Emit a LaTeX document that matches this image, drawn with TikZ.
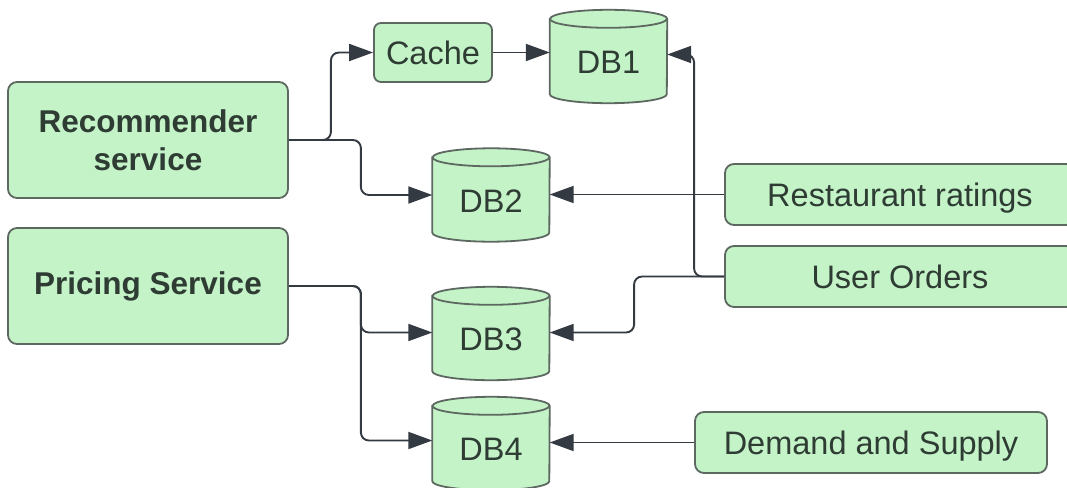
\documentclass[tikz,border=0pt]{standalone}
\usepackage{fontspec}
\setmainfont{Liberation Sans}
\usetikzlibrary{arrows.meta,calc}
\definecolor{boxfill}{RGB}{196,243,200}
\definecolor{boxline}{RGB}{92,104,96}
\definecolor{txt}{RGB}{46,60,52}
\definecolor{wire}{RGB}{52,58,66}
\tikzset{
  x=1pt,y=1pt,
  box/.style={draw=boxline,fill=boxfill,line width=1.8pt,rounded corners=9pt,
    text=txt,font=\fontsize{32.5}{38}\selectfont,align=center,inner sep=0pt},
  onebox/.style={box,text depth=0pt,text height=23pt},
  bigbox/.style={box,minimum width=280pt,minimum height=116pt,
    font=\bfseries\fontsize{31.5}{38}\selectfont},
  dbbox/.style={draw=none,minimum width=117pt,minimum height=93pt,inner sep=0pt},
  dbtxt/.style={text=txt,font=\fontsize{32.5}{38}\selectfont,inner sep=0pt},
  dbdraw/.style={draw=boxline,fill=boxfill,line width=1.8pt},
  wirestyle/.style={draw=wire,line width=1.9pt,rounded corners=8pt,
    -{Triangle[length=24pt,width=17pt]}},
}
\newcommand\mydb[4]{%
  \node[dbbox] (#1) at (#2,#3) {};
  \draw[dbdraw] ([yshift=-9pt]#1.north west) -- ([yshift=9pt]#1.south west)
    arc[start angle=180,end angle=360,x radius=58.5pt,y radius=9pt]
    -- ([yshift=-9pt]#1.north east)
    arc[start angle=0,end angle=180,x radius=58.5pt,y radius=9pt] -- cycle;
  \draw[dbdraw,fill=none] ([yshift=-9pt]#1.north west)
    arc[start angle=180,end angle=360,x radius=58.5pt,y radius=9pt];
  \node[dbtxt] (#1t) at ([yshift=-6pt]#1.center) {#4};
}
\begin{document}
\begin{tikzpicture}
\path[use as bounding box,fill=white] (0,0) rectangle (1067,-487);
% boxes
\node[bigbox] (rec) at (148,-140) {Recommender\\service};
\node[bigbox] (pri) at (148,-286) {\raisebox{5pt}{Pricing Service}};
\node[onebox,minimum width=118pt,minimum height=59pt,rounded corners=7pt] (cache) at (433,-52.5) {Cache};
\node[onebox,minimum width=350pt,minimum height=61pt] (rr) at (900,-194.5) {Restaurant ratings};
\node[onebox,minimum width=350pt,minimum height=61pt] (uo) at (900,-276.5) {User Orders};
\node[onebox,minimum width=352pt,minimum height=61pt] (ds) at (871,-442.5) {Demand and Supply};
% databases
\mydb{db1}{608.5}{-56.5}{DB1}
\mydb{db2}{491}{-195}{DB2}
\mydb{db3}{491}{-333.5}{DB3}
\mydb{db4}{491}{-443.5}{DB4}
% connectors
\draw[wirestyle] (rec.east) -- ++(42,0) |- (cache.west);
\draw[wirestyle] (rec.east) -- ++(72,0) |- (db2.west);
\draw[wirestyle] (cache.east) -- (cache.east -| db1.west);
\draw[wirestyle] (uo.west) -- ++(-30,0) |- ([yshift=2pt]db1.east);
\draw[wirestyle] (rr.west) -- (rr.west -| db2.east);
\draw[wirestyle] (uo.west) -- ++(-90,0) |- ([yshift=1pt]db3.east);
\draw[wirestyle] (pri.east) -- ++(72,0) |- ([yshift=1pt]db3.west);
\draw[wirestyle] (pri.east) -- ++(72,0) |- ([yshift=3pt]db4.west);
\draw[wirestyle] (ds.west) -- (ds.west -| db4.east);
\end{tikzpicture}
\end{document}
